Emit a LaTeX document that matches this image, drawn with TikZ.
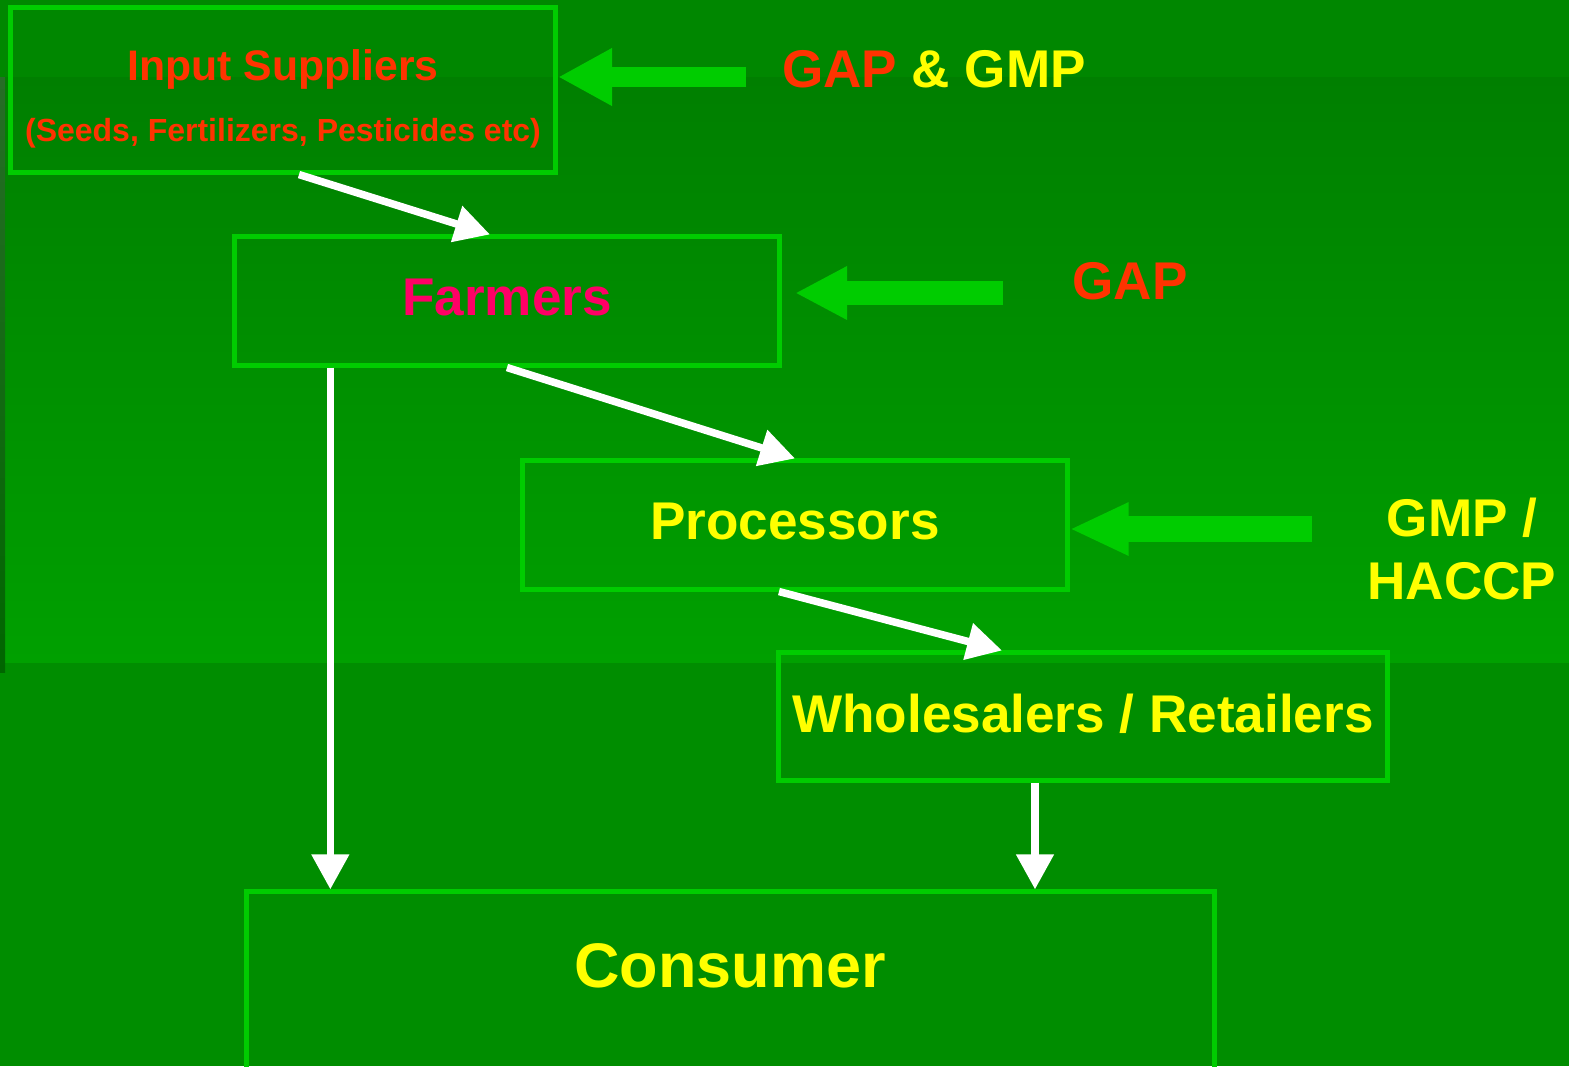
\documentclass[tikz,border=0pt]{standalone}
\usepackage{xcolor}
\usepackage{tikz}
\usepackage{fontspec}
\setmainfont{Liberation Sans}
\usetikzlibrary{arrows.meta,calc}

\definecolor{bandgreen}{HTML}{008700}
\definecolor{fadetop}{HTML}{007F00}
\definecolor{fadebottom}{HTML}{00A000}
\definecolor{lowgreen}{HTML}{008D00}
\definecolor{stripgreen}{HTML}{006600}
\definecolor{boxgreen}{HTML}{00CC00}
\definecolor{gapred}{HTML}{FF3300}
\definecolor{farmpink}{HTML}{FF0066}
\definecolor{labelyellow}{HTML}{FFFF00}

\begin{document}
\begin{tikzpicture}[x=0.01cm, y=-0.01cm]
  \tikzstyle{every node}=[font=\bfseries]
  \tikzstyle{box}=[rectangle, draw=boxgreen, line width=0.05cm, inner sep=0pt]
  \tikzstyle{flow}=[draw=white, line width=0.075cm, -{Triangle[length=0.35cm, width=0.36cm]}]
  \tikzstyle{guide}=[draw=boxgreen]
  \tikzstyle{big}=[font=\bfseries\fontsize{15.1}{17.9}\selectfont]

  \useasboundingbox (0,0) rectangle (1569,1066);
  \clip (0,0) rectangle (1569,1066);

  % background bands
  \fill[lowgreen] (0,0) rectangle (1569,1066);
  \fill[bandgreen] (0,0) rectangle (1569,77);
  \shade[top color=fadetop, bottom color=fadebottom] (0,77) rectangle (1569,662);
  \shade[top color=stripgreen!70!gray, bottom color=stripgreen] (0,77) rectangle (5,672);

  % the chain
  \node[box, minimum width=5.45cm, minimum height=1.64cm] (Suppliers) at (283,90) {};
  \node[box, minimum width=5.44cm, minimum height=1.28cm] (Farmers) at (507,301) {};
  \node[box, minimum width=5.44cm, minimum height=1.28cm] (Processors) at (795,525) {};
  \node[box, minimum width=6.08cm, minimum height=1.27cm] (Wholesalers) at (1083,716.5) {};
  \node[box, minimum width=9.67cm, minimum height=2.08cm] (Consumer) at (730.5,996) {};

  \node[anchor=base, text=gapred, font=\bfseries\fontsize{12.15}{14}\selectfont] (SuppliersTitle) at (283,80) {Input Suppliers};
  \node[anchor=base, text=gapred, font=\bfseries\fontsize{9.1}{11}\selectfont] (SuppliersList) at (283,141.5) {(Seeds, Fertilizers, Pesticides etc)};
  \node[big, anchor=base, text=farmpink] (FarmersText) at (507,315) {Farmers};
  \node[big, anchor=base, text=labelyellow] (ProcessorsText) at (795,539) {Processors};
  \node[big, anchor=base, text=labelyellow] (WholesalersText) at (1083,732) {Wholesalers / Retailers};
  \node[anchor=base, text=labelyellow, font=\bfseries\fontsize{17.9}{21}\selectfont] (ConsumerText) at (730,987) {Consumer};

  % white flow arrows
  \coordinate (FarmDrop) at ($(Farmers.south west)+(98,0)$);
  \coordinate (ShopDrop) at ($(Wholesalers.south)+(-48,0)$);
  \draw[flow] ($(Suppliers.south)+(16,0)$) -- ($(Farmers.north)+(-17,0)$);
  \draw[flow] (Farmers.south) -- (Processors.north);
  \draw[flow] ($(Processors.south)+(-16,0)$) -- ($(Wholesalers.north)+(-81,0)$);
  \draw[flow] (FarmDrop) -- (FarmDrop |- Consumer.north);
  \draw[flow] (ShopDrop) -- (ShopDrop |- Consumer.north);

  % standards feeding in from the right
  \node[big, anchor=base, text=labelyellow] (GapGmp) at (934,87) {\textcolor{gapred}{GAP} \& GMP};
  \node[big, anchor=base, text=gapred] (Gap) at (1130,299) {GAP};
  \node[big, align=center, text=labelyellow] (Haccp) at (1462,549) {GMP /\\HACCP};

  \coordinate (GapGmpTail) at (746,77);
  \coordinate (GapTail) at (1003,293);
  \coordinate (HaccpTail) at (1312,529);
  \draw[guide, line width=0.2cm, -{Triangle[length=0.54cm, width=0.54cm]}] (GapGmpTail) -- (GapGmpTail -| Suppliers.east);
  \draw[guide, line width=0.24cm, shorten >=0.135cm, -{Triangle[length=0.52cm, width=0.5cm]}] (GapTail) -- (GapTail -| Farmers.east);
  \draw[guide, line width=0.26cm, -{Triangle[length=0.59cm, width=0.49cm]}] (HaccpTail) -- (HaccpTail -| Processors.east);
\end{tikzpicture}
\end{document}
